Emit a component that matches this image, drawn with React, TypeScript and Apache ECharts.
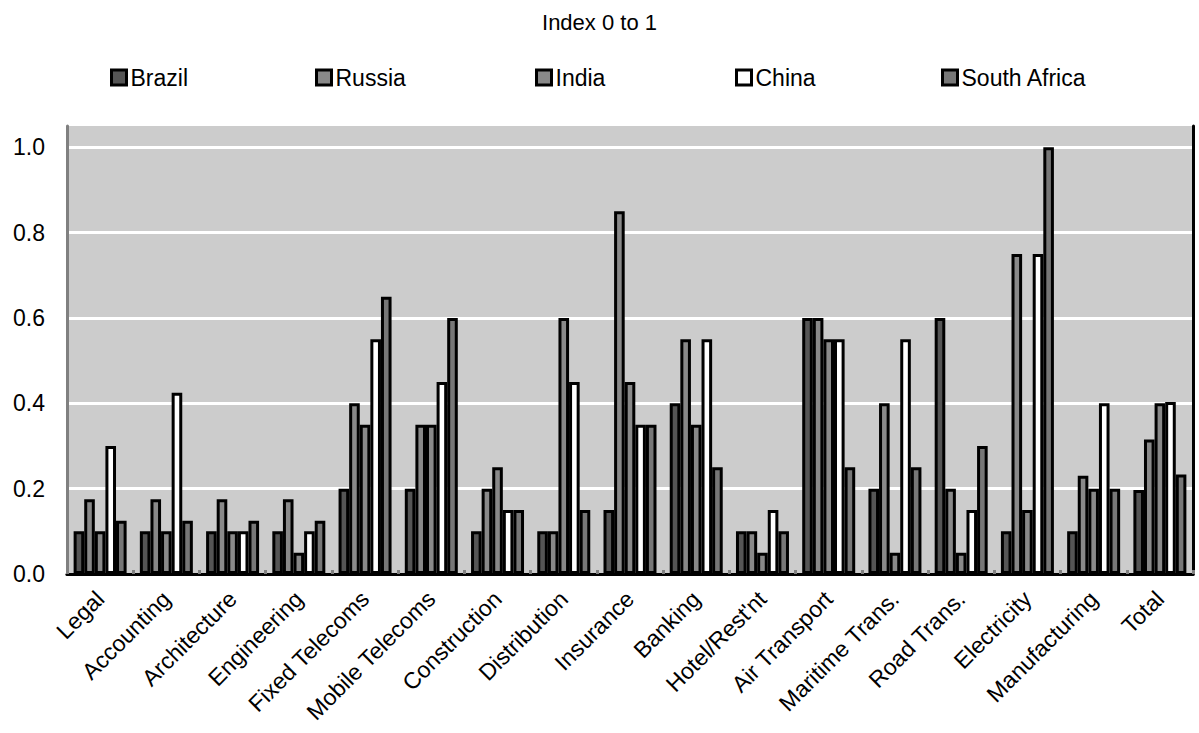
import React, { useEffect, useRef } from "react";
import * as echarts from "echarts";

const categories = [
  "Legal", "Accounting", "Architecture", "Engineering", "Fixed Telecoms",
  "Mobile Telecoms", "Construction", "Distribution", "Insurance", "Banking",
  "Hotel/Rest'nt", "Air Transport", "Maritime Trans.", "Road Trans.",
  "Electricity", "Manufacturing", "Total",
];

const brazil = [0.1, 0.1, 0.1, 0.1, 0.2, 0.2, 0.1, 0.1, 0.15, 0.4, 0.1, 0.6, 0.2, 0.6, 0.1, 0.1, 0.197];
const russia = [0.175, 0.175, 0.175, 0.175, 0.4, 0.35, 0.2, 0.1, 0.85, 0.55, 0.1, 0.6, 0.4, 0.2, 0.75, 0.23, 0.315];
const india = [0.1, 0.1, 0.1, 0.05, 0.35, 0.35, 0.25, 0.6, 0.45, 0.35, 0.05, 0.55, 0.05, 0.05, 0.15, 0.2, 0.4];
const china = [0.3, 0.425, 0.1, 0.1, 0.55, 0.45, 0.15, 0.45, 0.35, 0.55, 0.15, 0.55, 0.55, 0.15, 0.75, 0.4, 0.403];
const southAfrica = [0.125, 0.125, 0.125, 0.125, 0.65, 0.6, 0.15, 0.15, 0.35, 0.25, 0.1, 0.25, 0.25, 0.3, 1.0, 0.2, 0.233];

const seriesDefs = [
  { name: "Brazil", data: brazil, color: "#555555", legendLeft: 105 },
  { name: "Russia", data: russia, color: "#898989", legendLeft: 310 },
  { name: "India", data: india, color: "#898989", legendLeft: 530 },
  { name: "China", data: china, color: "#ffffff", legendLeft: 730 },
  { name: "South Africa", data: southAfrica, color: "#777777", legendLeft: 936 },
];

const FONT = "'Liberation Sans', Arial, sans-serif";

export default function App() {
  const ref = useRef<HTMLDivElement>(null);

  useEffect(() => {
    if (!ref.current) return;
    const chart = echarts.init(ref.current, undefined, { renderer: "svg" });

    chart.setOption({
      animation: false,
      backgroundColor: "#ffffff",
      textStyle: { fontFamily: FONT, color: "#000" },
      title: {
        text: "Index 0 to 1",
        left: "center",
        top: 6,
        textStyle: { fontFamily: FONT, fontSize: 22, fontWeight: "normal", color: "#000" },
      },
      legend: seriesDefs.map((s) => ({
        data: [s.name],
        left: s.legendLeft,
        top: 61,
        icon: "rect",
        itemWidth: 15,
        itemHeight: 15,
        itemGap: 0,
        textStyle: { fontFamily: FONT, fontSize: 23, color: "#000", padding: [0, 0, 0, -1] },
        itemStyle: { borderColor: "#000", borderWidth: 3 },
      })),
      grid: {
        left: 67,
        right: 6,
        top: 126,
        bottom: 159,
        show: true,
        backgroundColor: "#cccccc",
        borderWidth: 0,
      },
      xAxis: [
        {
          type: "category",
          data: categories,
          axisLine: { lineStyle: { color: "#808080", width: 3 } },
          axisTick: { show: true, inside: true, length: 4, lineStyle: { color: "#808080", width: 3 } },
          axisLabel: {
            rotate: 45,
            margin: 21,
            interval: 0,
            fontFamily: FONT,
            fontSize: 23,
            color: "#000",
          },
        },
        {
          type: "category",
          position: "top",
          data: categories,
          axisLine: { lineStyle: { color: "#000", width: 3 } },
          axisTick: { show: false },
          axisLabel: { show: false },
        },
      ],
      yAxis: [
        {
          type: "value",
          min: 0,
          max: 1.05,
          interval: 0.2,
          axisLine: { show: true, lineStyle: { color: "#808080", width: 3 } },
          axisTick: { show: false },
          splitLine: {
            show: true,
            showMinLine: false,
            showMaxLine: false,
            lineStyle: { color: "#ffffff", width: 3 },
          },
          axisLabel: {
            margin: 22,
            fontFamily: FONT,
            fontSize: 23,
            color: "#000",
            showMaxLabel: false,
            formatter: (v: number) => v.toFixed(1),
          },
        },
        {
          type: "value",
          position: "right",
          min: 0,
          max: 1.05,
          interval: 0.2,
          axisLine: { show: true, lineStyle: { color: "#000", width: 3 } },
          axisTick: { show: false },
          splitLine: { show: false },
          axisLabel: { show: false },
        },
      ],
      series: seriesDefs.map((s) => ({
        name: s.name,
        type: "bar",
        data: s.data,
        barGap: "0%",
        barCategoryGap: "20%",
        itemStyle: { color: s.color, borderColor: "#000", borderWidth: 3 },
        emphasis: { disabled: true },
      })),
    });

    return () => chart.dispose();
  }, []);

  return (
    <div
      ref={ref}
      style={{ position: "fixed", left: 0, top: 0, width: 1199, height: 733 }}
    />
  );
}
